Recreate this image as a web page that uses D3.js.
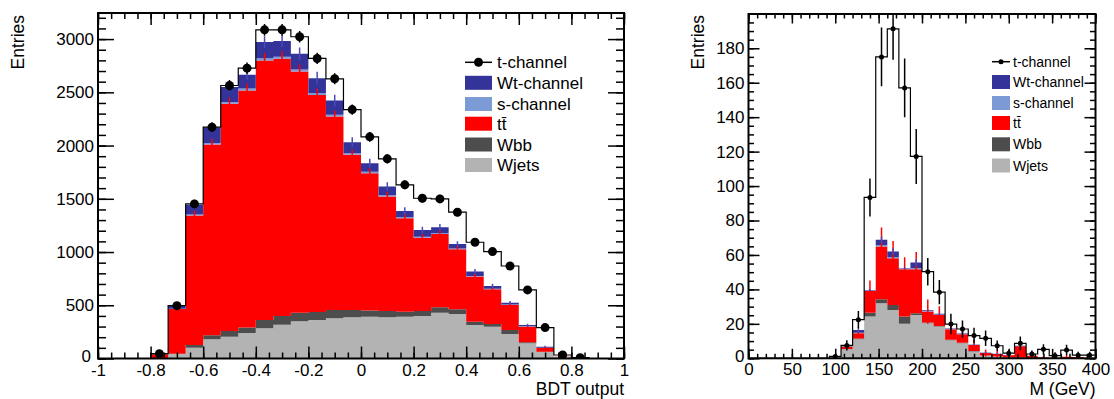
<!DOCTYPE html>
<html>
<head>
<meta charset="utf-8">
<script src="https://cdn.jsdelivr.net/npm/d3@7"></script>
<style>
  body { margin: 0; background: #fff; }
  svg { display: block; font-family: "Liberation Sans", Arial, Helvetica, sans-serif; }
</style>
</head>
<body>
<svg id="chart" width="1114" height="399"></svg>
<script>
// ---------- BDT output, 30 bins on [-1, 1] ----------
const bdtRange = [-1, 1];
const bdtWjets = [0,0,0,2,42,102,180,205,240,284,318,349,362,378,387,393,387,393,399,430,418,315,299,230,143,60,12,0,0,0];
const bdtWbb   = [0,0,0,0,3,25,38,53,50,78,81,81,75,78,69,59,59,47,47,51,44,31,25,38,9,4,2,0,0,0];
const bdtTtbar = [0,0,0,38,420,1215,1791,2134,2227,2437,2416,2266,2039,1817,1457,1289,1075,878,689,689,564,423,326,235,147,37,2,0,0,0];
const bdtSchan = [0,0,0,0,3,10,14,17,18,20,20,19,18,17,15,14,12,10,9,9,8,6,5,4,3,1,0,0,0,0];
const bdtWt    = [0,0,0,2,25,91,146,140,129,153,146,147,139,133,104,80,82,58,64,54,42,41,26,17,13,9,1,0,0,0];
const bdtTchan = [0,0,0,3,3,9,4,15,63,115,106,160,185,204,306,247,260,245,297,266,298,276,323,345,329,179,16,8,0,0];
const bdtTtbarErr = [0,0,0,8,25,45,55,60,65,70,70,65,60,55,50,45,45,40,35,35,30,28,25,20,15,10,3,0,0,0];
const bdtWtErr    = [0,0,0,3,8,25,40,45,45,55,55,60,60,55,45,40,40,35,30,30,25,25,20,15,12,8,3,0,0,0];
const bdtXTicks = [-1,-0.8,-0.6,-0.4,-0.2,0,0.2,0.4,0.6,0.8,1];
const bdtYTicks = [0,500,1000,1500,2000,2500,3000];

// ---------- M (GeV), 30 bins on [0, 400] ----------
const massRange = [0, 400];
const massWjets = [0,0,0,0,0,0,0,0.6,5.2,11,24.2,32,28.1,20,25.2,20.3,18.4,10.5,8.7,4,1.5,1,0.5,0.5,0.2,0.1,0,0,0,0];
const massWbb   = [0,0,0,0,0,0,0,0,0.2,0.5,2.3,2.3,2.9,4.2,1,0.5,0.3,0.3,0.3,0.2,0.1,0,0,0,0,0,0,0,0,0];
const massTtbar = [0,0,0,0,0,0,0,0.2,1.4,3,12.6,30.6,27.1,27.5,25.5,6.3,6.5,6,5,3.5,1.5,1.5,1.3,6.5,1.3,0.4,0.1,0.9,0.8,0.2];
const massSchan = [0,0,0,0,0,0,0,0,0.2,0.4,0.3,0.8,0.7,0.3,0.8,0.3,0.3,0.2,0.2,0.1,0.1,0,0,0,0,0,0,0,0,0];
const massWt    = [0,0,0,0,0,0,0,0,0.3,1.6,0.3,3.1,3.2,0.3,3.1,0.5,0.3,0.3,0.3,0.2,0.1,0.1,0.1,0.3,0,0,0,0,0,0];
const massTchan = [0,0,0,0,0,0,0,0.3,0.2,5.9,53.7,106.2,129.3,104.7,61.6,22.4,12.6,2.6,2.5,5.2,8.3,4.7,1.1,1.4,1,4.7,1.4,3.9,1,1.6];
const massTotalErr = [0,0,0,0,0,0,0,1,3,5,11,17,18,17,16,8,7,6,5,4.5,4.5,3,2,4,2,3,2,3,2,2];
const massTtbarErr = [0,0,0,0,0,0,0,0,1,2,6,11,10,7,10,7,5,4,4,3,2,2,2,3,1.5,1,0,1,1,0];
const massWtErr    = [0,0,0,0,0,0,0,0,0.5,1.5,0.5,2,2,0.5,2,0.5,0.5,0.5,0.5,0.5,0.5,0.5,0.5,0.5,0,0,0,0,0,0];
const massXTicks = [0,50,100,150,200,250,300,350,400];
const massYTicks = [0,20,40,60,80,100,120,140,160,180];

const legendNames = ["t-channel", "Wt-channel", "s-channel", "tt\u0304", "Wbb", "Wjets"];
const colors = { wjets: "#b3b3b3", wbb: "#4d4d4d", ttbar: "#ff0000", schan: "#7c9bd6", wt: "#333399" };

const svg = d3.select("#chart");

function drawPanel(o) {
  const x = d3.scaleLinear().domain(o.xRange).range([o.x0, o.x1]);
  const y = d3.scaleLinear().domain([0, o.yMax]).range([o.y0, o.y1]);
  const n = o.wjets.length;
  const bw = (o.xRange[1] - o.xRange[0]) / n;
  const edges = d3.range(n + 1).map(i => o.xRange[0] + i * bw);
  const centers = d3.range(n).map(i => o.xRange[0] + (i + 0.5) * bw);

  const keys = ["wjets", "wbb", "ttbar", "schan", "wt", "tchan"];
  const rows = d3.range(n).map(i => ({
    wjets: o.wjets[i], wbb: o.wbb[i], ttbar: o.ttbar[i],
    schan: o.schan[i], wt: o.wt[i], tchan: o.tchan[i]
  }));
  const stacked = d3.stack().keys(keys)(rows);

  const clipId = "clip-" + o.id;
  svg.append("clipPath").attr("id", clipId)
    .append("rect").attr("x", o.x0).attr("y", o.y1)
    .attr("width", o.x1 - o.x0).attr("height", o.y0 - o.y1);
  const g = svg.append("g").attr("clip-path", `url(#${clipId})`);

  // stacked background histograms
  const area = d3.area().curve(d3.curveStepAfter)
    .x(d => x(d.e)).y0(d => y(d.lo)).y1(d => y(d.hi));
  stacked.slice(0, 5).forEach(layer => {
    const pts = edges.map((e, i) => {
      const b = layer[Math.min(i, n - 1)];
      return { e, lo: b[0], hi: b[1] };
    });
    g.append("path").attr("d", area(pts)).attr("fill", colors[layer.key]);
  });

  // statistical error bars of the ttbar and Wt-channel histograms
  const ttTop = stacked[2], wtTop = stacked[4];
  d3.range(n).forEach(i => {
    if (o.ttbarErr[i] > 0) {
      const t = ttTop[i][1];
      g.append("line").attr("x1", x(centers[i])).attr("x2", x(centers[i]))
        .attr("y1", y(t - o.ttbarErr[i])).attr("y2", y(t + o.ttbarErr[i]))
        .attr("stroke", "#ff0000").attr("stroke-width", 1.5);
    }
    if (o.wtErr[i] > 0) {
      const t = wtTop[i][1];
      g.append("line").attr("x1", x(centers[i])).attr("x2", x(centers[i]))
        .attr("y1", y(t - o.wtErr[i])).attr("y2", y(t + o.wtErr[i]))
        .attr("stroke", "#4a4ab8").attr("stroke-width", 1.5);
    }
  });

  // t-channel on top of the stack: outline, points and errors
  const total = stacked[5].map(d => d[1]);
  const line = d3.line().curve(d3.curveStepAfter).x(d => x(d.e)).y(d => y(d.v));
  const linePts = edges.map((e, i) => ({ e, v: total[Math.min(i, n - 1)] }));
  g.append("path").attr("d", line(linePts))
    .attr("fill", "none").attr("stroke", "#000").attr("stroke-width", 1.2);

  d3.range(n).forEach(i => {
    if (total[i] <= 0) return;
    const err = o.totalErr[i];
    g.append("line").attr("x1", x(centers[i])).attr("x2", x(centers[i]))
      .attr("y1", y(total[i] - err)).attr("y2", y(total[i] + err))
      .attr("stroke", "#000").attr("stroke-width", 1.5);
    g.append("circle").attr("cx", x(centers[i])).attr("cy", y(total[i]))
      .attr("r", o.dotR).attr("fill", "#000");
  });

  // axes with inward ticks on all four sides
  const styleAxis = sel => {
    sel.select(".domain").remove();
    sel.selectAll("line").attr("stroke", "#000").attr("stroke-width", 1.5);
    sel.selectAll("text").attr("fill", "#000")
      .style("font-family", '"Liberation Sans", Arial, sans-serif')
      .style("font-size", o.labelSize + "px");
  };
  const xMinor = d3.range(Math.round((o.xRange[1] - o.xRange[0]) / o.xMinorStep) + 1)
    .map(i => o.xRange[0] + i * o.xMinorStep);
  const yMinor = d3.range(Math.floor(o.yMax / o.yMinorStep) + 1).map(i => i * o.yMinorStep);

  svg.append("g").attr("transform", `translate(0,${o.y0})`)
    .call(d3.axisBottom(x).tickValues(xMinor).tickSizeInner(-o.xMinorLen).tickSizeOuter(0).tickFormat(""))
    .call(styleAxis);
  svg.append("g").attr("transform", `translate(0,${o.y0})`)
    .call(d3.axisBottom(x).tickValues(o.xTicks).tickSizeInner(-o.xMajorLen).tickSizeOuter(0)
      .tickPadding(5).tickFormat(o.xFmt))
    .call(styleAxis);
  svg.append("g").attr("transform", `translate(0,${o.y1})`)
    .call(d3.axisTop(x).tickValues(xMinor).tickSizeInner(-o.xMinorLen).tickSizeOuter(0).tickFormat(""))
    .call(styleAxis);
  svg.append("g").attr("transform", `translate(0,${o.y1})`)
    .call(d3.axisTop(x).tickValues(o.xTicks).tickSizeInner(-o.xMajorLen).tickSizeOuter(0).tickFormat(""))
    .call(styleAxis);

  svg.append("g").attr("transform", `translate(${o.x0},0)`)
    .call(d3.axisLeft(y).tickValues(yMinor).tickSizeInner(-o.yMinorLen).tickSizeOuter(0).tickFormat(""))
    .call(styleAxis);
  const yAxisG = svg.append("g").attr("transform", `translate(${o.x0},0)`)
    .call(d3.axisLeft(y).tickValues(o.yTicks).tickSizeInner(-o.yMajorLen).tickSizeOuter(0)
      .tickPadding(4).tickFormat(d => String(d)))
    .call(styleAxis);
  // keep the zero label clear of the first x label at the corner
  yAxisG.selectAll(".tick").filter(d => d === 0).select("text")
    .attr("x", -4 - o.zeroShift).attr("dy", "0.2em");
  svg.append("g").attr("transform", `translate(${o.x1},0)`)
    .call(d3.axisRight(y).tickValues(yMinor).tickSizeInner(-o.yMinorLen).tickSizeOuter(0).tickFormat(""))
    .call(styleAxis);
  svg.append("g").attr("transform", `translate(${o.x1},0)`)
    .call(d3.axisRight(y).tickValues(o.yTicks).tickSizeInner(-o.yMajorLen).tickSizeOuter(0).tickFormat(""))
    .call(styleAxis);

  // frame
  svg.append("rect").attr("x", o.x0).attr("y", o.y1)
    .attr("width", o.x1 - o.x0).attr("height", o.y0 - o.y1)
    .attr("fill", "none").attr("stroke", "#000").attr("stroke-width", 2);

  // axis titles
  svg.append("text").attr("transform", `translate(${o.yTitleX},15) rotate(-90)`)
    .attr("text-anchor", "end").style("font-size", o.titleSize + "px").text("Entries");
  svg.append("text").attr("x", o.x1).attr("y", 395)
    .attr("text-anchor", "end").style("font-size", o.titleSize + "px").text(o.xTitle);

  // legend
  const lg = svg.append("g");
  const L = o.legend;
  legendNames.forEach((name, i) => {
    const cy = L.rows[i];
    if (i === 0) {
      lg.append("line").attr("x1", L.x).attr("x2", L.x + L.w).attr("y1", cy).attr("y2", cy)
        .attr("stroke", "#000").attr("stroke-width", 1.5);
      lg.append("circle").attr("cx", L.x + L.w / 2).attr("cy", cy).attr("r", L.dotR).attr("fill", "#000");
    } else {
      const key = ["wt", "schan", "ttbar", "wbb", "wjets"][i - 1];
      lg.append("rect").attr("x", L.x).attr("y", cy - 7).attr("width", L.w).attr("height", 14)
        .attr("fill", colors[key]);
    }
    lg.append("text").attr("x", L.tx).attr("y", cy).attr("dy", "0.36em")
      .style("font-size", L.size + "px").text(name);
  });
}

drawPanel({
  id: "bdt", xRange: bdtRange, x0: 98, x1: 624, y0: 358.5, y1: 13, yMax: 3245,
  wjets: bdtWjets, wbb: bdtWbb, ttbar: bdtTtbar, schan: bdtSchan, wt: bdtWt, tchan: bdtTchan,
  ttbarErr: bdtTtbarErr, wtErr: bdtWtErr,
  totalErr: bdtWjets.map((_, i) => Math.sqrt(bdtWjets[i] + bdtWbb[i] + bdtTtbar[i] + bdtSchan[i] + bdtWt[i] + bdtTchan[i])),
  dotR: 4.5,
  xTicks: bdtXTicks, xMinorStep: 0.05, xFmt: d => String(+d.toFixed(1)),
  yTicks: bdtYTicks, yMinorStep: 100,
  xMajorLen: 12, xMinorLen: 6, yMajorLen: 16, yMinorLen: 8,
  labelSize: 17, titleSize: 17.5, yTitleX: 24, xTitle: "BDT output", zeroShift: 3,
  legend: { x: 465, w: 27, tx: 497, size: 17, dotR: 4.5, rows: [62.3, 82.8, 104, 123.7, 144.5, 165] }
});

drawPanel({
  id: "mass", xRange: massRange, x0: 748.5, x1: 1095.5, y0: 358.3, y1: 14, yMax: 199.9,
  wjets: massWjets, wbb: massWbb, ttbar: massTtbar, schan: massSchan, wt: massWt, tchan: massTchan,
  ttbarErr: massTtbarErr, wtErr: massWtErr, totalErr: massTotalErr,
  dotR: 2.5,
  xTicks: massXTicks, xMinorStep: 10, xFmt: d => String(d),
  yTicks: massYTicks, yMinorStep: 5,
  xMajorLen: 9.5, xMinorLen: 4.5, yMajorLen: 11, yMinorLen: 5.5,
  labelSize: 17, titleSize: 17.5, yTitleX: 704, xTitle: "M (GeV)", zeroShift: 0,
  legend: { x: 992, w: 18, tx: 1013, size: 14, dotR: 2.5, rows: [61.7, 82, 103, 123, 144.3, 165.5] }
});
</script>
</body>
</html>
